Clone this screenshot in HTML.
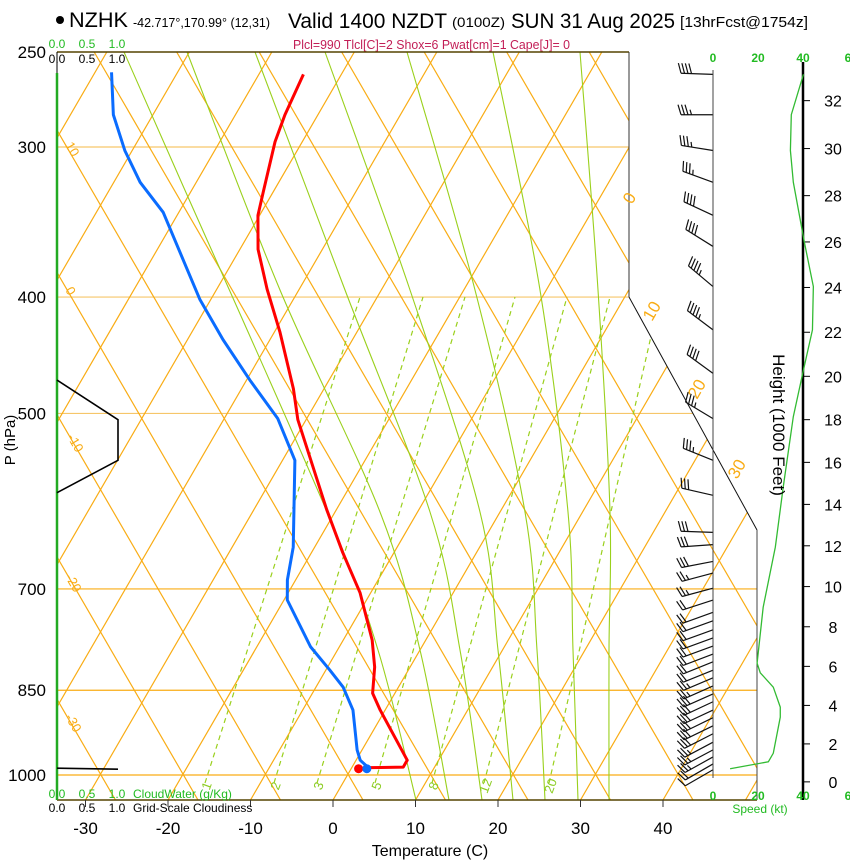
<!DOCTYPE html>
<html><head><meta charset="utf-8">
<style>
html,body{margin:0;padding:0;background:#fff;}
svg{display:block;font-family:"Liberation Sans",Arial,sans-serif;}
</style></head>
<body>
<svg id="chart" width="850" height="860" viewBox="0 0 850 860" xmlns="http://www.w3.org/2000/svg">
<defs>
<clipPath id="plotclip"><polygon points="57,52 629,52 629,297 757,530 757,800 57,800"/></clipPath>
</defs>
<rect x="0" y="0" width="850" height="860" fill="#fff"/>
<g id="title">
<circle cx="60" cy="20" r="4" fill="#000"/>
<text x="69" y="27" font-size="21" textLength="59" lengthAdjust="spacingAndGlyphs">NZHK</text>
<text x="133" y="27" font-size="13" textLength="137" lengthAdjust="spacingAndGlyphs">-42.717°,170.99° (12,31)</text>
<text x="288" y="28" font-size="21" textLength="159" lengthAdjust="spacingAndGlyphs">Valid 1400 NZDT</text>
<text x="452" y="27" font-size="14" textLength="53" lengthAdjust="spacingAndGlyphs">(0100Z)</text>
<text x="511" y="28" font-size="21" textLength="164" lengthAdjust="spacingAndGlyphs">SUN 31 Aug 2025</text>
<text x="680" y="27" font-size="15" textLength="128" lengthAdjust="spacingAndGlyphs">[13hrFcst@1754z]</text>
</g>
<text x="293" y="49" font-size="13" fill="#c21e56" textLength="277" lengthAdjust="spacingAndGlyphs">Plcl=990 Tlcl[C]=2 Shox=6 Pwat[cm]=1 Cape[J]= 0</text>
<g id="grid" clip-path="url(#plotclip)"></g>
<g id="frame"></g>
<g id="profiles"></g>
<g id="barbs"></g>
<g id="right"></g>
<g id="labels"></g>
</svg>
<script>
// ---- data ----
const tempP = [988, 986, 985, 972, 883, 855, 813, 772, 705, 653, 601, 506, 477, 428, 394, 365, 342, 327, 297, 282, 261];
const tempC = [0.9, 2.2, 6.2, 6.2, -0.6, -2.7, -4.3, -6.5, -11.3, -16.2, -21.2, -31.0, -33.7, -39.3, -43.9, -47.8, -50.2, -51.2, -53.3, -54.0, -54.6];
const dewP = [985, 972, 953, 883, 845, 818, 782, 715, 688, 646, 547, 505, 469, 434, 402, 378, 340, 321, 302, 282, 260];
const dewC = [1.9, 0.5, -0.6, -3.9, -6.7, -9.5, -13.5, -19.6, -21.0, -22.6, -28.5, -33.5, -39.6, -45.7, -51.3, -55.2, -61.9, -66.8, -70.9, -74.8, -78.0];
const sfcTempDot = [988, 0.9];
const sfcDewDot = [988, 1.9];
const cloudP = [469, 506, 547, 582];
const cloudFrac = [0, 1, 1, 0];
const sfcCloudP = [987, 989];
const sfcCloudFrac = [0, 1];
const barbP = [261, 282, 302, 321, 342, 363, 392, 426, 463, 505, 547, 585, 628, 643, 664, 679, 699, 715, 732, 744, 757, 769, 781, 793, 805, 818, 830, 843, 856, 869, 883, 896, 910, 924, 939, 953, 966, 979, 990];
const barbDir = [272, 270, 279, 290, 295, 302, 310, 307, 306, 301, 292, 283, 272, 266, 259, 255, 255, 252, 250, 250, 250, 250, 250, 249, 248, 248, 247, 246, 246, 245, 245, 244, 244, 243, 242, 242, 241, 240, 240];
const barbKt = [40, 36, 35, 36, 38, 40, 44, 44, 40, 36, 33, 30, 28, 28, 28, 25, 23, 22, 22, 21, 21, 20, 20, 20, 21, 22, 25, 27, 28, 30, 30, 30, 29, 28, 27, 27, 25, 22, 10];
const speedP = [261, 282, 302, 321, 360, 392, 426, 460, 503, 576, 646, 725, 807, 822, 845, 878, 895, 959, 975, 988];
const speedKt = [40.2, 34.8, 34.4, 35.7, 40.6, 44.6, 44.2, 40.2, 35.7, 31.2, 27.7, 22.3, 19.6, 21.0, 26.8, 29.9, 29.9, 26.8, 24.6, 7.6];
const tempTicks = [-30, -20, -10, 0, 10, 20, 30, 40];
const presTicks = [250, 300, 400, 500, 700, 850, 1000];
const heightTicks = [0, 2, 4, 6, 8, 10, 12, 14, 16, 18, 20, 22, 24, 26, 28, 30, 32];
const mixLabels = ["1", "2", "3", "5", "8", "12", "20"];

// ---- axes ----
function yP(p){ return 775 - 521.6*Math.log(1000/p); }
function xT(t,p){ return 333 + 8.25*t + 0.58*(800 - yP(p)); }
function xSpd(k){ return 713 + 2.25*k; }
function xCloud(f){ return 57 + 61*f; }
function pStd(kft){ const m=kft*304.8; return 1013.25*Math.pow(1-2.25577e-5*m,5.25588); }

const NS="http://www.w3.org/2000/svg";
function mk(parent, tag, attrs){ const e=document.createElementNS(NS,tag); for(const k in attrs) e.setAttribute(k,attrs[k]); parent.appendChild(e); return e; }
const grid=document.getElementById('grid');
const frame=document.getElementById('frame');
const prof=document.getElementById('profiles');
const barbs=document.getElementById('barbs');
const right=document.getElementById('right');
const labels=document.getElementById('labels');
const OR="#f9ac14";

// horizontal isobars
presTicks.forEach(p=>{
  const y=yP(p);
  const l=mk(grid,'line',{x1:57,x2:760,y1:y,y2:y,stroke:(p>=700?OR:"#f6c66a"),'stroke-width':1.2});
  
  
});
// isotherms & dry adiabats
for(let k=-20;k<=8;k++){
  const x0=333+82.5*k;
  const a=mk(grid,'line',{x1:x0,y1:800,x2:x0+0.58*748,y2:52,stroke:OR,'stroke-width':1.2});
  
  
  const x1=363+82.5*k+82.5*6;
  const b=mk(grid,'line',{x1:x1,y1:800,x2:x1-0.58*748,y2:52,stroke:OR,'stroke-width':1.2});
  
  
}
// moist adiabats (background grid curves)
const moistCurves=[
 [[124,52],[180,179],[327,512],[378,650],[416,800]],
 [[187,52],[280,290],[380,512],[420,650],[449,800]],
 [[255,52],[345,290],[430,512],[460,650],[482,800]],
 [[325,52],[410,290],[480,512],[498,650],[513,800]],
 [[407,52],[475,290],[525,512],[537,650],[545,800]],
 [[493,52],[540,290],[568,512],[573,650],[578,800]],
 [[580,52],[598,290],[610,512],[609,650],[609,800]]
];
function smooth(pts){
  let d="M"+pts[0][0]+","+pts[0][1];
  for(let i=0;i<pts.length-1;i++){
    const p0=pts[Math.max(0,i-1)],p1=pts[i],p2=pts[i+1],p3=pts[Math.min(pts.length-1,i+2)];
    const c1=[p1[0]+(p2[0]-p0[0])/6,p1[1]+(p2[1]-p0[1])/6];
    const c2=[p2[0]-(p3[0]-p1[0])/6,p2[1]-(p3[1]-p1[1])/6];
    d+=" C"+c1[0]+","+c1[1]+" "+c2[0]+","+c2[1]+" "+p2[0]+","+p2[1];
  }
  return d;
}
moistCurves.forEach(c=>{
  const e=mk(grid,'path',{d:smooth(c),fill:'none',stroke:'#9ad01c','stroke-width':1.1});
  
  
});
// mixing ratio lines
const mixEnds=[[205,360],[274,423],[317,465],[375,515],[432,567],[484,610],[549,660]];
mixEnds.forEach((m,i)=>{
  const e=mk(grid,'line',{x1:m[0],y1:783,x2:m[1],y2:297,stroke:'#9ad01c','stroke-width':1.2,'stroke-dasharray':'5,4'});
  
  
  const t=mk(labels,'text',{x:m[0]+2,y:790,'font-size':13,fill:'#8ccc22','text-anchor':'middle',transform:'rotate(-70 '+(m[0]+2)+' 786)'});
  t.textContent=mixLabels[i];
  
  
});

// frame
[[57,52,629,52,'#554400',1.5],[629,52,629,297,'#333',1],[629,297,757,530,'#111',1],[757,530,757,800,'#444',1],[57,800,757,800,'#554400',1.5],[57,52,57,73,'#000',1]].forEach(s=>{
  const e=mk(frame,'line',{x1:s[0],y1:s[1],x2:s[2],y2:s[3],stroke:s[4],'stroke-width':s[5]});
  
  
});
const gl=mk(frame,'line',{x1:57,y1:73,x2:57,y2:800,stroke:'#22aa22','stroke-width':2.5});


tempTicks.forEach(t=>{
  const x=333+8.25*t;
  const e=mk(frame,'line',{x1:x,y1:800,x2:x,y2:807,stroke:'#333','stroke-width':1});
  
  
  const l=mk(labels,'text',{x:x,y:834,'font-size':17,'text-anchor':'middle'});
  l.textContent=t;
  
  
});
presTicks.forEach(p=>{
  const l=mk(labels,'text',{x:46,y:yP(p)+6,'font-size':17,'text-anchor':'end'});
  l.textContent=p;
  
  
});

// cloud panel
function polyPts(ps,fs,fx){ return ps.map((p,i)=>fx(fs[i])+","+yP(p)).join(" "); }
const cl=mk(prof,'polyline',{points:polyPts(cloudP,cloudFrac,xCloud),fill:'none',stroke:'#000','stroke-width':1.6});


const cl2=mk(prof,'polyline',{points:polyPts(sfcCloudP,sfcCloudFrac,xCloud),fill:'none',stroke:'#000','stroke-width':1.6});



// profiles
const tl=mk(prof,'polyline',{points:tempP.map((p,i)=>xT(tempC[i],p)+","+yP(p)).join(" "),fill:'none',stroke:'#ff0000','stroke-width':3,'stroke-linejoin':'round'});


const dl=mk(prof,'polyline',{points:dewP.map((p,i)=>xT(dewC[i],p)+","+yP(p)).join(" "),fill:'none',stroke:'#0a6cff','stroke-width':3,'stroke-linejoin':'round'});


const td=mk(prof,'circle',{cx:xT(sfcTempDot[1],sfcTempDot[0]),cy:yP(sfcTempDot[0]),r:4.5,fill:'#ff0000'});


const dd=mk(prof,'circle',{cx:xT(sfcDewDot[1],sfcDewDot[0]),cy:yP(sfcDewDot[0]),r:4.5,fill:'#0a6cff'});



// wind barbs
barbP.forEach((p,i)=>{
  const y=yP(p), d=barbDir[i]*Math.PI/180, L=32;
  const ux=Math.sin(d), uy=-Math.cos(d);
  const tx=713+L*ux, ty=y+L*uy;
  const g=mk(barbs,'g',{stroke:'#111','stroke-width':1.2,fill:'none'});
  
  
  mk(g,'line',{x1:713,y1:y,x2:tx,y2:ty});
  const px=-uy, py=ux;
  let s=barbKt[i], pos=0;
  while(s>=7.5){ const bx=tx-ux*pos*3.5, by=ty-uy*pos*3.5; mk(g,'line',{x1:bx,y1:by,x2:bx+px*10+ux*3,y2:by+py*10+uy*3}); s-=10; pos++; }
  if(s>=2.5){ const bx=tx-ux*pos*3.5, by=ty-uy*pos*3.5; mk(g,'line',{x1:bx,y1:by,x2:bx+px*5+ux*1.5,y2:by+py*5+uy*1.5}); }
});

// right panel
const zl=mk(right,'line',{x1:713,y1:70,x2:713,y2:778,stroke:'#444','stroke-width':1});


const hx=mk(right,'line',{x1:803,y1:62,x2:803,y2:800,stroke:'#000','stroke-width':2.5});


heightTicks.forEach(h=>{
  const y=yP(pStd(h));
  const e=mk(right,'line',{x1:803,y1:y,x2:810,y2:y,stroke:'#000','stroke-width':1});
  
  
  const t=mk(right,'text',{x:833,y:y+6,'font-size':16,'text-anchor':'middle'});
  t.textContent=h;
  
  
});
[0,20,40,60].forEach(k=>{
  [62,800].forEach(yy=>{
    const t=mk(right,'text',{x:xSpd(k),y:yy,'font-size':12,'font-weight':'bold',fill:'#22bb22','text-anchor':'middle'});
    t.textContent=(k===60?'6':k);
    
    
  });
});
const sc=mk(right,'polyline',{points:speedP.map((p,i)=>xSpd(speedKt[i])+","+yP(p)).join(" "),fill:'none',stroke:'#33bb33','stroke-width':1.3});



// misc labels
function txt(s,x,y,attrs,name){ const t=mk(labels,'text',Object.assign({x:x,y:y},attrs)); t.textContent=s;   return t; }
txt('Temperature (C)',430,856,{'font-size':16,'text-anchor':'middle'},'x-axis-title');
txt('P (hPa)',15,440,{'font-size':15,'text-anchor':'middle',transform:'rotate(-90 15 440)'},'y-axis-title');
txt('Height (1000 Feet)',773,425,{'font-size':17,'text-anchor':'middle',transform:'rotate(90 773 425)'},'height-axis-title');
txt('Speed (kt)',760,813,{'font-size':12,fill:'#22bb22','text-anchor':'middle'},'speed-axis-title');
txt('0.0',57,48,{'font-size':12,fill:'#22bb22','text-anchor':'middle'},'cloudwater-top-tick');
txt('0.5',87,48,{'font-size':12,fill:'#22bb22','text-anchor':'middle'},'cloudwater-top-tick');
txt('1.0',117,48,{'font-size':12,fill:'#22bb22','text-anchor':'middle'},'cloudwater-top-tick');
txt('0.0',57,63,{'font-size':12,'text-anchor':'middle'},'cloudiness-top-tick');
txt('0.5',87,63,{'font-size':12,'text-anchor':'middle'},'cloudiness-top-tick');
txt('1.0',117,63,{'font-size':12,'text-anchor':'middle'},'cloudiness-top-tick');
txt('0.0',57,798,{'font-size':12,fill:'#22bb22','text-anchor':'middle'},'cloudwater-bottom-tick');
txt('0.5',87,798,{'font-size':12,fill:'#22bb22','text-anchor':'middle'},'cloudwater-bottom-tick');
txt('1.0',117,798,{'font-size':12,fill:'#22bb22','text-anchor':'middle'},'cloudwater-bottom-tick');
txt('CloudWater (g/Kg)',133,798,{'font-size':12,fill:'#22bb22'},'cloudwater-title');
txt('0.0',57,812,{'font-size':12,'text-anchor':'middle'},'cloudiness-bottom-tick');
txt('0.5',87,812,{'font-size':12,'text-anchor':'middle'},'cloudiness-bottom-tick');
txt('1.0',117,812,{'font-size':12,'text-anchor':'middle'},'cloudiness-bottom-tick');
txt('Grid-Scale Cloudiness',133,812,{'font-size':12},'cloudiness-title');
[['10',65,145],['0',65,290],['-10',67,437],['-20',65,577],['-30',65,717]].forEach(a=>{
  txt(a[0],a[1],a[2],{'font-size':13,fill:OR,transform:'rotate(60 '+a[1]+' '+a[2]+')'},'isotherm-label-left');
});
[['0',632,205],['10',652,322],['20',697,400],['30',737,480]].forEach(a=>{
  txt(a[0],a[1],a[2],{'font-size':17,fill:OR,transform:'rotate(-60 '+a[1]+' '+a[2]+')'},'isotherm-label-right');
});
</script>
</body></html>
